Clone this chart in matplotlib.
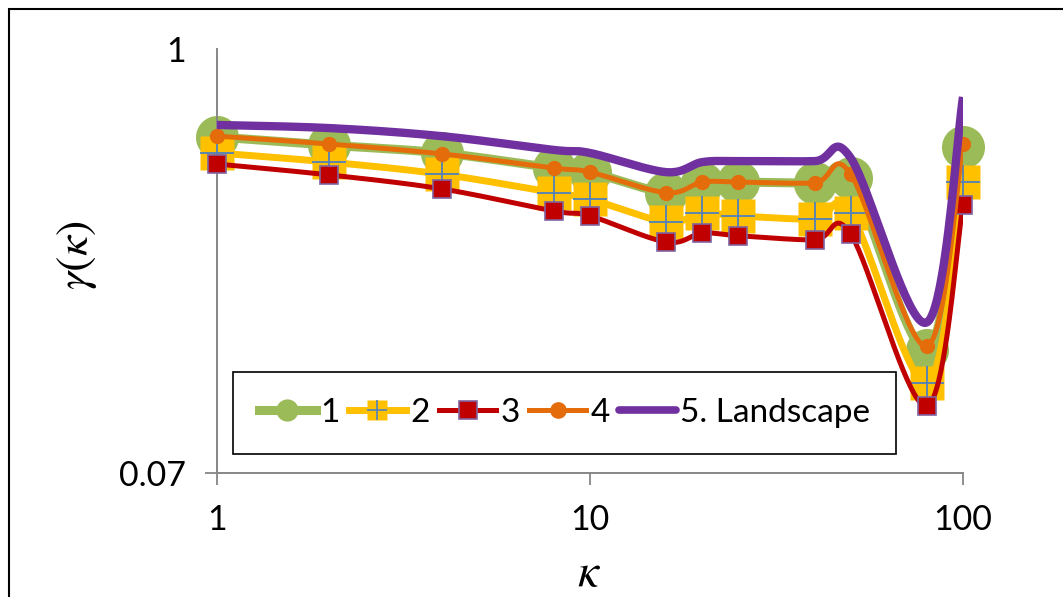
import numpy as np
import matplotlib.pyplot as plt
from matplotlib.lines import Line2D
from matplotlib.patches import Rectangle

plt.rcParams['font.family'] = ['Lato', 'DejaVu Sans']
plt.rcParams['mathtext.fontset'] = 'stix'

# data
kappa = [1, 2, 4, 8, 10, 16, 20, 25, 40, 50, 80, 100]
s1 = [0.576, 0.547, 0.521, 0.474, 0.462, 0.406, 0.432, 0.434, 0.432, 0.446, 0.151, 0.541]
s2 = [0.521, 0.492, 0.456, 0.406, 0.390, 0.338, 0.357, 0.351, 0.344, 0.357, 0.123, 0.434]
s3 = [0.486, 0.454, 0.416, 0.362, 0.351, 0.298, 0.315, 0.310, 0.302, 0.313, 0.1066, 0.376]
s4 = [0.579, 0.551, 0.518, 0.474, 0.462, 0.406, 0.434, 0.434, 0.432, 0.456, 0.155, 0.551]
s5 = [0.621, 0.609, 0.579, 0.531, 0.521, 0.462, 0.492, 0.495, 0.495, 0.505, 0.180, 0.740]
labels = ["1", "2", "3", "4", "5. Landscape"]

GREEN, YELLOW, RED, ORANGE, PURPLE = "#9BBB59", "#FFC000", "#C00000", "#E46C0A", "#7030A0"
BLUE, LILAC = "#4F81BD", "#8064A2"
AXC = "#868686"


def smooth(xs, ys, n=40):
    # excel-like smoothed line (catmull-rom bezier) in log-log space
    P = np.column_stack([np.log10(xs), np.log10(ys)])
    Pp = np.vstack([P[0], P, P[-1]])
    t = np.linspace(0, 1, n)[:, None]
    out = []
    for i in range(len(P) - 1):
        p0, p1, p2, p3 = Pp[i], Pp[i + 1], Pp[i + 2], Pp[i + 3]
        c1 = p1 + (p2 - p0) / 6
        c2 = p2 - (p3 - p1) / 6
        seg = (1 - t)**3 * p1 + 3 * (1 - t)**2 * t * c1 + 3 * (1 - t) * t**2 * c2 + t**3 * p2
        out.append(seg if i == 0 else seg[1:])
    seg = np.vstack(out)
    return 10**seg[:, 0], 10**seg[:, 1]


fig = plt.figure(figsize=(10.63, 5.97), dpi=100)
ax = fig.add_axes([217/1063, 1 - 473/597, 746/1063, 424/597])
ax.set_xscale('log')
ax.set_yscale('log')

z = 2
# series 1
ax.plot(*smooth(kappa, s1), color=GREEN, lw=6.5, zorder=z, solid_capstyle='round')
ax.plot(kappa, s1, ls='none', marker='o', ms=31, mfc=GREEN, mec='none', zorder=z + 0.5, clip_on=False)
# series 2
ax.plot(*smooth(kappa, s2), color=YELLOW, lw=5, zorder=z + 1, solid_capstyle='round')
ax.plot(kappa, s2, ls='none', marker='s', ms=24, mfc=YELLOW, mec='none', zorder=z + 1.5, clip_on=False)
ax.plot(kappa, s2, ls='none', marker='+', ms=24, mew=1.3, color=BLUE, zorder=z + 1.6, clip_on=False)
# series 3
ax.plot(*smooth(kappa, s3), color=RED, lw=3.6, zorder=z + 2, solid_capstyle='round')
ax.plot(kappa, s3, ls='none', marker='s', ms=13.5, mfc=RED, mec=LILAC, mew=1.2, zorder=z + 2.5, clip_on=False)
# series 4
ax.plot(*smooth(kappa, s4), color=ORANGE, lw=3.6, zorder=z + 3, solid_capstyle='round')
ax.plot(kappa, s4, ls='none', marker='o', ms=11, mfc=ORANGE, mec='none', zorder=z + 3.5, clip_on=False)
# series 5
ax.plot(*smooth(kappa, s5), color=PURPLE, lw=6, zorder=z + 4, solid_capstyle='butt')

ax.set_xlim(1, 100)
ax.set_ylim(0.07, 1)
ax.set_xticks([1, 10, 100])
ax.set_xticklabels(["1", "10", "100"])
ax.set_yticks([0.07, 1])
ax.set_yticklabels(["0.07", "1"])
ax.minorticks_off()
ax.yaxis.get_major_ticks()[1].tick1line.set_visible(False)
ax.tick_params(axis='both', direction='out', length=8.6, width=1.3, color=AXC, labelsize=24.5)
ax.tick_params(axis='x', pad=14)
ax.tick_params(axis='y', pad=14)

for s in ['top', 'right']:
    ax.spines[s].set_visible(False)
for s in ['left', 'bottom']:
    ax.spines[s].set_color(AXC)
    ax.spines[s].set_linewidth(1.4)

fig.text(77/1063, 1 - 255/597, r'$\gamma(\kappa)$', rotation=90, fontsize=33, ha='center', va='center')
fig.text(589/1063, 1 - 573/597, r'$\kappa$', fontsize=34, ha='center', va='center')

# legend handles (smaller markers, like excel)
h1 = Line2D([], [], color=GREEN, lw=6.5, marker='o', ms=16, mfc=GREEN, mec='none')
h2a = Line2D([], [], color=YELLOW, lw=5, marker='s', ms=15, mfc=YELLOW, mec='none')
h2b = Line2D([], [], ls='none', marker='+', ms=15, mew=1.2, color=BLUE)
h3 = Line2D([], [], color=RED, lw=3.6, marker='s', ms=13, mfc=RED, mec=LILAC, mew=1.2)
h4 = Line2D([], [], color=ORANGE, lw=3.6, marker='o', ms=12, mfc=ORANGE, mec='none')
h5 = Line2D([], [], color=PURPLE, lw=5.5, solid_capstyle='round')
leg = ax.legend([h1, (h2a, h2b), h3, h4, h5], labels, ncol=5, loc='center',
                bbox_to_anchor=(0.4658, 0.1415), fontsize=24, frameon=True, fancybox=False,
                framealpha=1, edgecolor='black', handlelength=1.72, handletextpad=0.12,
                columnspacing=0.28, borderpad=0.78)
leg.get_frame().set_linewidth(1.2)
leg.set_zorder(10)

# outer chart frame
fig.patches.append(Rectangle((9/1063, -0.1), 1.2, (597 - 9)/597 + 0.1, transform=fig.transFigure,
                             fill=False, edgecolor='black', lw=1.5))

fig.savefig("out.png", dpi=100)
